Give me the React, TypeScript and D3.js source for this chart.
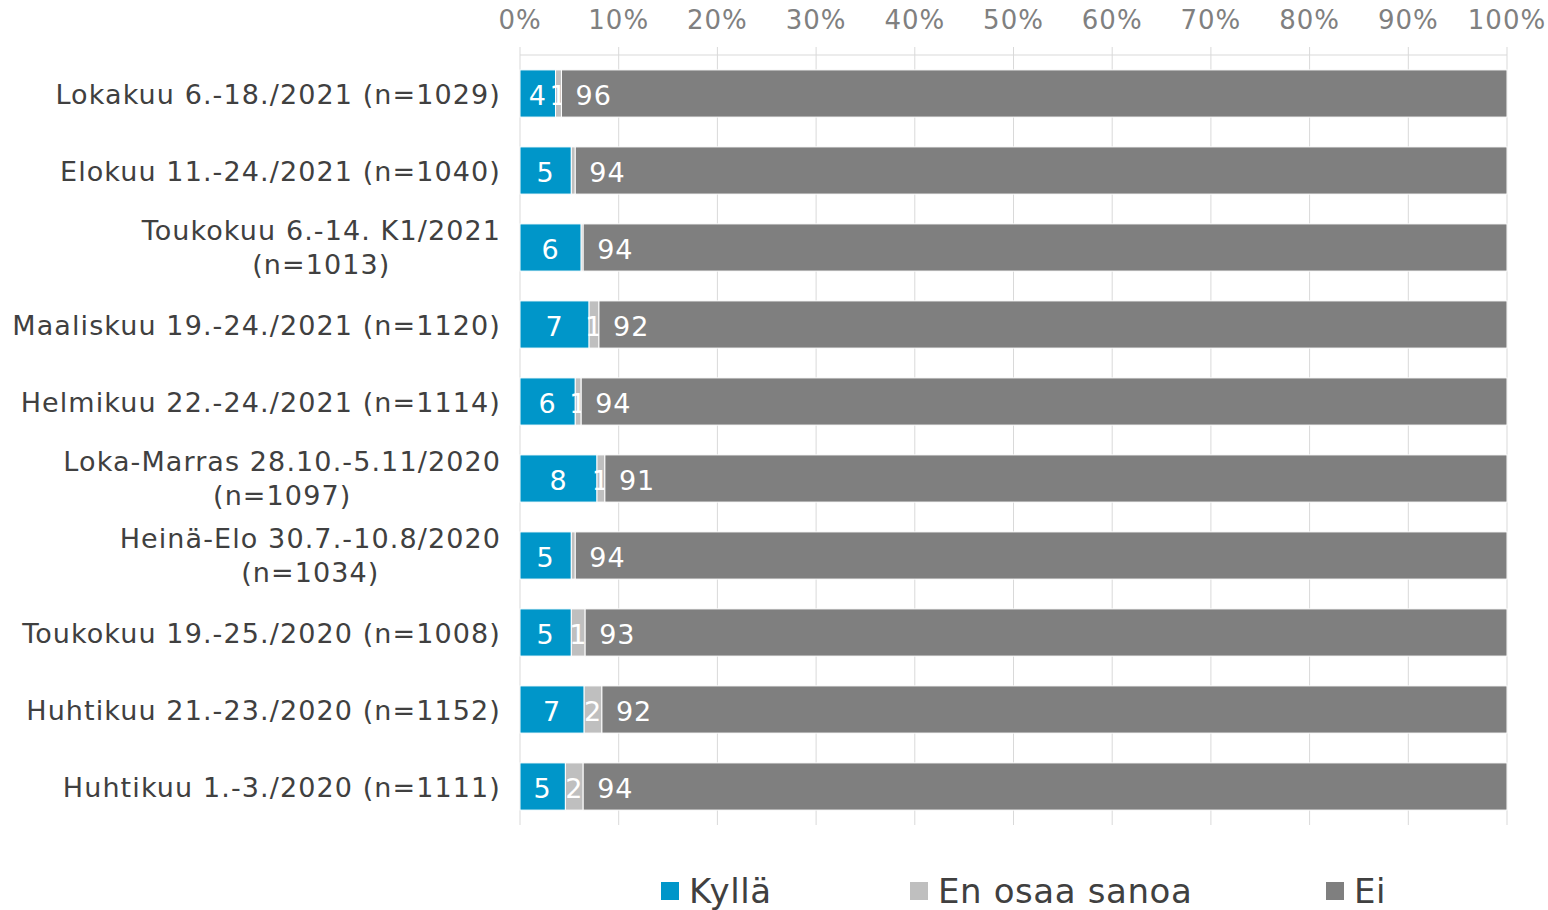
import React, { useEffect, useRef } from "react";
import * as d3 from "d3";

const categories = [
  "Lokakuu 6.-18./2021 (n=1029)",
  "Elokuu 11.-24./2021 (n=1040)",
  "Toukokuu 6.-14. K1/2021\n(n=1013)",
  "Maaliskuu 19.-24./2021 (n=1120)",
  "Helmikuu 22.-24./2021 (n=1114)",
  "Loka-Marras 28.10.-5.11/2020\n(n=1097)",
  "Heinä-Elo 30.7.-10.8/2020\n(n=1034)",
  "Toukokuu 19.-25./2020 (n=1008)",
  "Huhtikuu 21.-23./2020 (n=1152)",
  "Huhtikuu 1.-3./2020 (n=1111)",
];
const kylla = [3.6, 5.2, 6.2, 7.0, 5.6, 7.8, 5.2, 5.2, 6.5, 4.6];
const enOsaa = [0.6, 0.4, 0.2, 1.0, 0.6, 0.8, 0.4, 1.4, 1.8, 1.8];
const ei = [95.8, 94.4, 93.6, 92.0, 93.8, 91.4, 94.4, 93.4, 91.7, 93.6];
const seriesNames = ["Kyllä", "En osaa sanoa", "Ei"];
const seriesColors = ["#0096C9", "#BFBFBF", "#7F7F7F"];
const tickValues = [0, 10, 20, 30, 40, 50, 60, 70, 80, 90, 100];

const W = 1548;
const H = 910;
const M = { left: 520, right: 1507, top: 55, bottom: 825 };
const FONT = "'DejaVu Sans', Verdana, sans-serif";

export default function App() {
  const ref = useRef<SVGSVGElement>(null);

  useEffect(() => {
    const svg = d3.select(ref.current);
    svg.selectAll("*").remove();

    const rows = categories.map((c, i) => ({
      cat: c,
      [seriesNames[0]]: kylla[i],
      [seriesNames[1]]: enOsaa[i],
      [seriesNames[2]]: ei[i],
    }));

    const x = d3.scaleLinear().domain([0, 100]).range([M.left, M.right]);
    const y = d3
      .scaleBand<string>()
      .domain(categories)
      .range([M.top, M.bottom])
      .paddingInner(0.4)
      .paddingOuter(0.2);

    const g = svg.append("g");
    g.selectAll("line.grid")
      .data(tickValues)
      .enter()
      .append("line")
      .attr("x1", (d) => x(d))
      .attr("x2", (d) => x(d))
      .attr("y1", M.top - 8)
      .attr("y2", M.bottom)
      .attr("stroke", "#D9D9D9")
      .attr("stroke-width", 1);
    g.append("line")
      .attr("x1", x(0))
      .attr("x2", x(100))
      .attr("y1", M.top)
      .attr("y2", M.top)
      .attr("stroke", "#D9D9D9");

    g.selectAll("text.tick")
      .data(tickValues)
      .enter()
      .append("text")
      .attr("x", (d) => x(d))
      .attr("y", 29)
      .attr("text-anchor", "middle")
      .attr("fill", "#808080")
      .style("font-family", FONT)
      .style("font-size", "26px")
      .style("letter-spacing", "1px")
      .text((d) => `${d}%`);

    const stack = d3.stack<any>().keys(seriesNames);
    const layers = stack(rows as any);

    const bw = y.bandwidth();

    layers.forEach((layer, si) => {
      const lg = svg.append("g");
      lg.selectAll("rect")
        .data(layer)
        .enter()
        .append("rect")
        .attr("x", (d) => x(d[0]))
        .attr("y", (d) => y((d.data as any).cat)! - 0.5)
        .attr("width", (d) => Math.max(0, x(d[1]) - x(d[0])))
        .attr("height", bw + 1)
        .attr("fill", seriesColors[si])
        .attr("stroke", "#FFFFFF")
        .attr("stroke-width", 1);

      lg.selectAll("text")
        .data(layer.filter((d) => Math.round(d[1] - d[0]) >= 1))
        .enter()
        .append("text")
        .attr("x", (d) => (si === 2 ? x(d[0]) + 14 : (x(d[0]) + x(d[1])) / 2))
        .attr("y", (d) => y((d.data as any).cat)! + bw / 2 + 11)
        .attr("text-anchor", si === 2 ? "start" : "middle")
        .attr("fill", "#FFFFFF")
        .style("font-family", FONT)
        .style("font-size", "27px")
        .style("letter-spacing", "1px")
        .text((d) => String(Math.round(d[1] - d[0])));
    });

    const cg = svg.append("g");
    const labelStyle = (t: any) =>
      t
        .attr("fill", "#404040")
        .style("font-family", FONT)
        .style("font-size", "27px")
        .style("letter-spacing", "1.1px");
    categories.forEach((c) => {
      const cy = y(c)! + bw / 2;
      const lines = c.split("\n");
      if (lines.length === 1) {
        labelStyle(
          cg.append("text").attr("x", 501).attr("y", cy + 10).attr("text-anchor", "end")
        ).text(c);
      } else {
        const t1 = labelStyle(
          cg.append("text").attr("x", 501).attr("y", cy - 8).attr("text-anchor", "end")
        ).text(lines[0]);
        const w1 = (t1.node() as SVGTextElement).getComputedTextLength();
        labelStyle(
          cg
            .append("text")
            .attr("x", 501 - w1 / 2)
            .attr("y", cy + 26)
            .attr("text-anchor", "middle")
        ).text(lines[1]);
      }
    });

    const legendX = [661, 910, 1326];
    const leg = svg.append("g");
    seriesNames.forEach((s, i) => {
      leg
        .append("rect")
        .attr("x", legendX[i])
        .attr("y", 882)
        .attr("width", 18)
        .attr("height", 18)
        .attr("fill", seriesColors[i]);
      leg
        .append("text")
        .attr("x", legendX[i] + 28)
        .attr("y", 903)
        .attr("fill", "#404040")
        .style("font-family", FONT)
        .style("font-size", "34px")
        .style("letter-spacing", "0.6px")
        .text(s);
    });
  }, []);

  return (
    <svg
      ref={ref}
      width={W}
      height={H}
      style={{ position: "absolute", left: 0, top: 0, background: "#FFFFFF" }}
    />
  );
}
